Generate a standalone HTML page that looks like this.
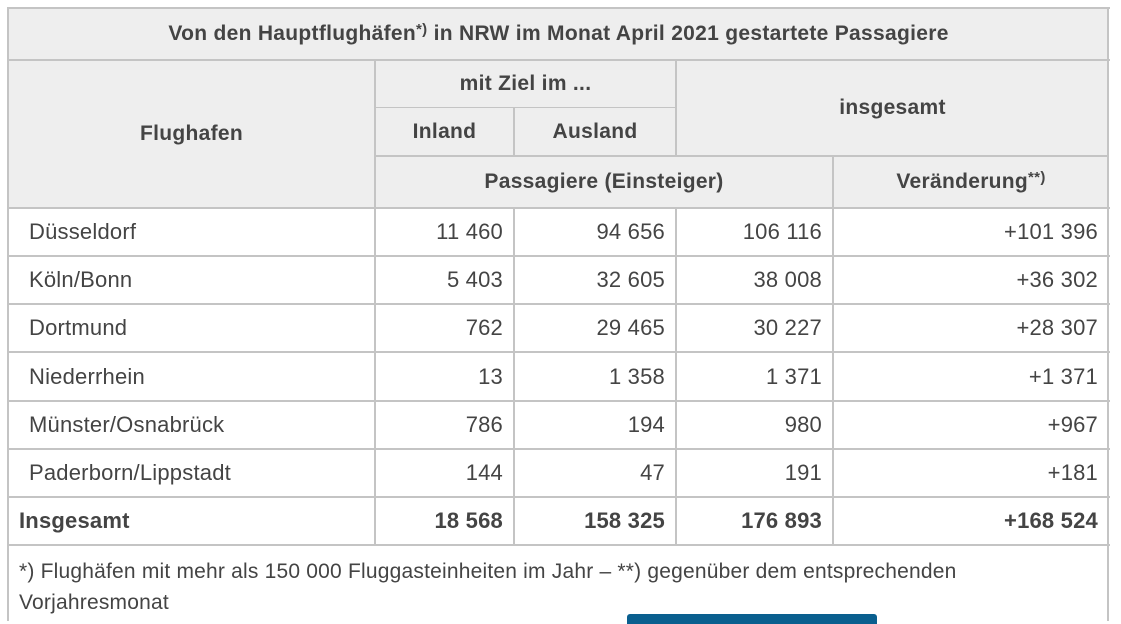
<!DOCTYPE html>
<html><head><meta charset="utf-8"><style>
body{margin:0;width:1121px;height:621px;background:#fff;overflow:hidden;position:relative;font-family:"Liberation Sans",sans-serif;color:#444;}
.c{position:absolute;box-sizing:border-box;display:flex;align-items:center;font-size:22px;letter-spacing:0.2px;white-space:nowrap;}
.h{background:#eee;font-weight:bold;justify-content:center;font-size:21px;letter-spacing:0.3px;}
.r{justify-content:flex-end;padding-right:11px;}
.l{padding-left:21px;}
.b{font-weight:bold;}
.ln{position:absolute;background:#c4c4c4;}
sup{font-size:15px;position:relative;top:-5px;vertical-align:top;line-height:1;}
</style></head><body>
<div class="c h" style="left:8px;top:8px;width:1101px;height:52px;">Von den Hauptflughäfen<sup>*)</sup>&nbsp;in NRW im Monat April 2021 gestartete Passagiere</div>
<div class="c h" style="left:8px;top:60px;width:367px;height:148px;">Flughafen</div>
<div class="c h" style="left:375px;top:60px;width:301px;height:48px;">mit Ziel im ...</div>
<div class="c h" style="left:375px;top:108px;width:139px;height:48px;">Inland</div>
<div class="c h" style="left:514px;top:108px;width:162px;height:48px;">Ausland</div>
<div class="c h" style="left:676px;top:60px;width:433px;height:96px;">insgesamt</div>
<div class="c h" style="left:375px;top:156px;width:458px;height:52px;">Passagiere (Einsteiger)</div>
<div class="c h" style="left:833px;top:156px;width:276px;height:52px;">Veränderung<sup>**)</sup></div>

<div class="c l" style="left:8px;top:208px;width:367px;height:48px;">Düsseldorf</div>
<div class="c r" style="left:375px;top:208px;width:139px;height:48px;">11 460</div>
<div class="c r" style="left:514px;top:208px;width:162px;height:48px;">94 656</div>
<div class="c r" style="left:676px;top:208px;width:157px;height:48px;">106 116</div>
<div class="c r" style="left:833px;top:208px;width:276px;height:48px;">+101 396</div>

<div class="c l" style="left:8px;top:256px;width:367px;height:48px;">Köln/Bonn</div>
<div class="c r" style="left:375px;top:256px;width:139px;height:48px;">5 403</div>
<div class="c r" style="left:514px;top:256px;width:162px;height:48px;">32 605</div>
<div class="c r" style="left:676px;top:256px;width:157px;height:48px;">38 008</div>
<div class="c r" style="left:833px;top:256px;width:276px;height:48px;">+36 302</div>

<div class="c l" style="left:8px;top:304px;width:367px;height:48px;">Dortmund</div>
<div class="c r" style="left:375px;top:304px;width:139px;height:48px;">762</div>
<div class="c r" style="left:514px;top:304px;width:162px;height:48px;">29 465</div>
<div class="c r" style="left:676px;top:304px;width:157px;height:48px;">30 227</div>
<div class="c r" style="left:833px;top:304px;width:276px;height:48px;">+28 307</div>

<div class="c l" style="left:8px;top:353px;width:367px;height:48px;">Niederrhein</div>
<div class="c r" style="left:375px;top:353px;width:139px;height:48px;">13</div>
<div class="c r" style="left:514px;top:353px;width:162px;height:48px;">1 358</div>
<div class="c r" style="left:676px;top:353px;width:157px;height:48px;">1 371</div>
<div class="c r" style="left:833px;top:353px;width:276px;height:48px;">+1 371</div>

<div class="c l" style="left:8px;top:401px;width:367px;height:48px;">Münster/Osnabrück</div>
<div class="c r" style="left:375px;top:401px;width:139px;height:48px;">786</div>
<div class="c r" style="left:514px;top:401px;width:162px;height:48px;">194</div>
<div class="c r" style="left:676px;top:401px;width:157px;height:48px;">980</div>
<div class="c r" style="left:833px;top:401px;width:276px;height:48px;">+967</div>

<div class="c l" style="left:8px;top:449px;width:367px;height:48px;">Paderborn/Lippstadt</div>
<div class="c r" style="left:375px;top:449px;width:139px;height:48px;">144</div>
<div class="c r" style="left:514px;top:449px;width:162px;height:48px;">47</div>
<div class="c r" style="left:676px;top:449px;width:157px;height:48px;">191</div>
<div class="c r" style="left:833px;top:449px;width:276px;height:48px;">+181</div>

<div class="c b" style="left:8px;top:497px;width:367px;height:48px;padding-left:11px;">Insgesamt</div>
<div class="c r b" style="left:375px;top:497px;width:139px;height:48px;">18 568</div>
<div class="c r b" style="left:514px;top:497px;width:162px;height:48px;">158 325</div>
<div class="c r b" style="left:676px;top:497px;width:157px;height:48px;">176 893</div>
<div class="c r b" style="left:833px;top:497px;width:276px;height:48px;">+168 524</div>

<div style="position:absolute;left:19px;top:556px;width:1080px;font-size:21px;letter-spacing:0.2px;line-height:31px;">*) Flughäfen mit mehr als 150 000 Fluggasteinheiten im Jahr – **) gegenüber dem entsprechenden<br>Vorjahresmonat</div>

<div class="ln" style="left:7px;top:7px;width:1103px;height:2px;"></div>
<div class="ln" style="left:7px;top:7px;width:2px;height:614px;"></div>
<div class="ln" style="left:1107px;top:7px;width:2px;height:614px;"></div>
<div class="ln" style="left:7px;top:59px;width:1103px;height:2px;"></div>
<div class="ln" style="left:375px;top:107px;width:301px;height:1px;"></div>
<div class="ln" style="left:375px;top:155px;width:734px;height:2px;"></div>
<div class="ln" style="left:7px;top:207px;width:1103px;height:2px;"></div>
<div class="ln" style="left:7px;top:255px;width:1103px;height:2px;"></div>
<div class="ln" style="left:7px;top:303px;width:1103px;height:2px;"></div>
<div class="ln" style="left:7px;top:351px;width:1103px;height:2px;"></div>
<div class="ln" style="left:7px;top:400px;width:1103px;height:2px;"></div>
<div class="ln" style="left:7px;top:448px;width:1103px;height:2px;"></div>
<div class="ln" style="left:7px;top:496px;width:1103px;height:2px;"></div>
<div class="ln" style="left:7px;top:544px;width:1103px;height:2px;"></div>
<div class="ln" style="left:374px;top:60px;width:2px;height:485px;"></div>
<div class="ln" style="left:513px;top:108px;width:2px;height:48px;"></div>
<div class="ln" style="left:513px;top:208px;width:2px;height:337px;"></div>
<div class="ln" style="left:675px;top:60px;width:2px;height:96px;"></div>
<div class="ln" style="left:675px;top:208px;width:2px;height:337px;"></div>
<div class="ln" style="left:832px;top:156px;width:2px;height:389px;"></div>

<div style="position:absolute;left:627px;top:614px;width:250px;height:10px;background:#0a5f8f;border-radius:3px 3px 0 0;"></div>
</body></html>
